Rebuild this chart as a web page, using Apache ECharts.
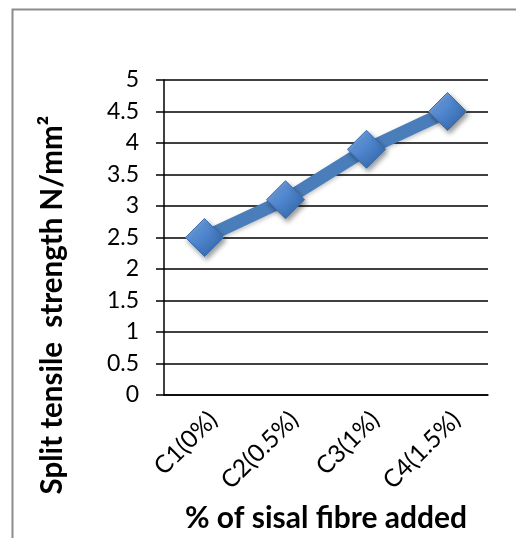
<!DOCTYPE html>
<html>
<head>
<meta charset="utf-8">
<script src="https://cdn.jsdelivr.net/npm/echarts@6/dist/echarts.min.js"></script>
<style>
  html, body { margin: 0; padding: 0; background: #fff; }
  #chart { width: 516px; height: 538px; }
</style>
</head>
<body>
<div id="chart"></div>
<script>
// Split tensile strength by sisal fibre content
const categories = ['C1(0%)', 'C2(0.5%)', 'C3(1%)', 'C4(1.5%)'];
const strength = [2.5, 3.1, 3.9, 4.5];
const yTicks = { min: 0, max: 5, interval: 0.5 };
const xTitle = '% of sisal fibre added';
const yTitle = 'Split tensile  strength N/mm\u00B2';

const font = 'Lato, "Open Sans", sans-serif';
const chart = echarts.init(document.getElementById('chart'), null, { renderer: 'canvas' });

chart.setOption({
  animation: false,
  backgroundColor: '#fff',
  graphic: [{
    type: 'rect',
    shape: { x: 12.5, y: 9.5, width: 520, height: 540 },
    style: { fill: 'none', stroke: '#8c8c8c', lineWidth: 2 },
    silent: true
  }, {
    // vertical axis title, placed lower than the plot middle
    type: 'text',
    x: 52, y: 305,
    rotation: Math.PI / 2,
    style: {
      text: yTitle,
      fontSize: 29.5, fontWeight: 'bold', fontFamily: font, fill: '#000',
      align: 'center', verticalAlign: 'middle'
    },
    silent: true
  }],
  grid: { left: 164, top: 80, right: 28, bottom: 142 },
  xAxis: {
    type: 'category',
    data: categories,
    boundaryGap: true,
    axisLine: { lineStyle: { color: '#000', width: 1.5 } },
    axisTick: { show: false },
    axisLabel: {
      rotate: 45, margin: 12, verticalAlign: 'top',
      color: '#000', fontSize: 24.5, fontFamily: font
    },
    name: xTitle,
    nameLocation: 'middle',
    nameGap: 108,
    nameTextStyle: { fontSize: 30, fontWeight: 'bold', color: '#000', fontFamily: font }
  },
  yAxis: {
    type: 'value',
    min: yTicks.min, max: yTicks.max, interval: yTicks.interval,
    axisLine: { show: true, lineStyle: { color: '#000', width: 1.5 } },
    axisTick: { show: true, length: 8, lineStyle: { color: '#000', width: 1.5 } },
    axisLabel: { margin: 25, color: '#000', fontSize: 23, fontFamily: font },
    splitLine: { show: true, lineStyle: { color: '#000', width: 1.5 } }
  },
  series: [{
    type: 'line',
    data: strength,
    symbol: 'diamond',
    symbolSize: 38,
    lineStyle: { color: '#4a7ebb', width: 13, shadowColor: 'rgba(0,0,0,0.25)', shadowBlur: 4, shadowOffsetY: 2 },
    itemStyle: {
      color: new echarts.graphic.LinearGradient(0, 0, 1, 1, [
        { offset: 0, color: '#8cb4ec' },
        { offset: 0.45, color: '#4f86cf' },
        { offset: 1, color: '#2c5d9c' }
      ]),
      borderColor: '#3b6fae',
      borderWidth: 1,
      shadowColor: 'rgba(0,0,0,0.4)',
      shadowBlur: 5,
      shadowOffsetX: 2,
      shadowOffsetY: 3
    },
    z: 3
  }]
});
</script>
</body>
</html>
